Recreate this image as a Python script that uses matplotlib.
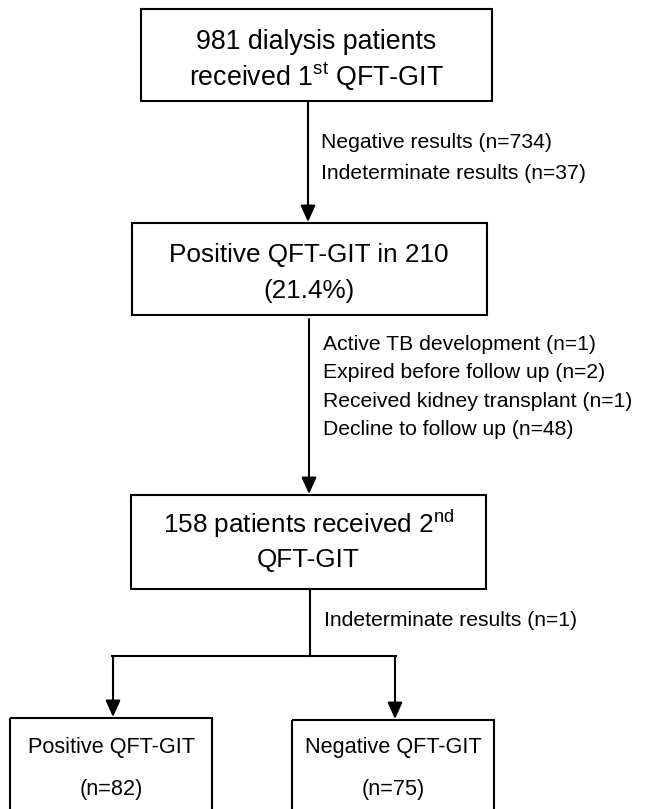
import matplotlib
matplotlib.use('agg')
import matplotlib.pyplot as plt
from matplotlib.patches import Rectangle

plt.rcParams['font.family'] = ['Liberation Sans', 'DejaVu Sans']
plt.rcParams['mathtext.fontset'] = 'custom'
plt.rcParams['mathtext.rm'] = 'Liberation Sans'

# flowchart content
n_total = 981
n_positive_1 = 210
pct_positive_1 = 21.4
n_second = 158
n_positive_2 = 82
n_negative_2 = 75

excluded_1 = ['Negative results (n=734)', 'Indeterminate results (n=37)']
excluded_2 = ['Active TB development (n=1)', 'Expired before follow up (n=2)',
              'Received kidney transplant (n=1)', 'Decline to follow up (n=48)']
excluded_3 = ['Indeterminate results (n=1)']

box_texts = [
    ['{} dialysis patients'.format(n_total), r'received 1$^{\mathrm{st}}$ QFT-GIT'],
    ['Positive QFT-GIT in {}'.format(n_positive_1), '({}%)'.format(pct_positive_1)],
    [r'{} patients received 2$^{{\mathrm{{nd}}}}$'.format(n_second), 'QFT-GIT'],
    ['Positive QFT-GIT', '(n={})'.format(n_positive_2)],
    ['Negative QFT-GIT', '(n={})'.format(n_negative_2)],
]

# box geometry (pixels): x0, y0, x1, y1
boxes = [
    (141, 9, 492, 101),
    (132, 223, 487, 315),
    (131, 495, 486, 589),
    (10, 718, 212, 830),
    (292, 720, 494, 830),
]
# text line positions (x centre, y centre) and font size per box
line_pos = [
    [(316, 42), (316, 77)],
    [(309, 255), (309, 291)],
    [(309, 524), (308, 560)],
    [(111, 747), (111, 790)],
    [(393, 747), (393, 790)],
]
box_fs = [19.3, 18.8, 18.8, 15.6, 15.6]

fig = plt.figure(figsize=(6.45, 8.09), dpi=100)
ax = fig.add_axes([0, 0, 1, 1])
ax.set_xlim(0, 645)
ax.set_ylim(809, 0)
ax.axis('off')

lw = 1.5
for (x0, y0, x1, y1), lines, pos, fs in zip(boxes, box_texts, line_pos, box_fs):
    ax.add_patch(Rectangle((x0, y0), x1 - x0, y1 - y0, fill=False,
                           edgecolor='black', linewidth=lw))
    for t, (x, y) in zip(lines, pos):
        ax.text(x, y, t, ha='center', va='center', fontsize=fs)


def arrow(x, y0, y1):
    ax.annotate('', xy=(x, y1), xytext=(x, y0),
                arrowprops=dict(arrowstyle='-|>,head_length=1.0,head_width=0.45',
                                color='black', lw=lw, shrinkA=0, shrinkB=0))


arrow(308, 101, 222)
arrow(309, 319, 494)
ax.plot([310, 310], [589, 656], color='black', lw=lw)
ax.plot([112, 396], [656, 656], color='black', lw=lw, solid_capstyle='projecting')
arrow(113, 656, 717)
arrow(395, 656, 719)

side_fs = 15.2
for i, t in enumerate(excluded_1):
    ax.text(321, 142 + i * 31, t, ha='left', va='center', fontsize=side_fs)
for i, t in enumerate(excluded_2):
    ax.text(323, 344 + i * 28.5, t, ha='left', va='center', fontsize=side_fs)
for i, t in enumerate(excluded_3):
    ax.text(324, 620 + i * 30, t, ha='left', va='center', fontsize=side_fs)

fig.savefig('out.png', dpi=100)
